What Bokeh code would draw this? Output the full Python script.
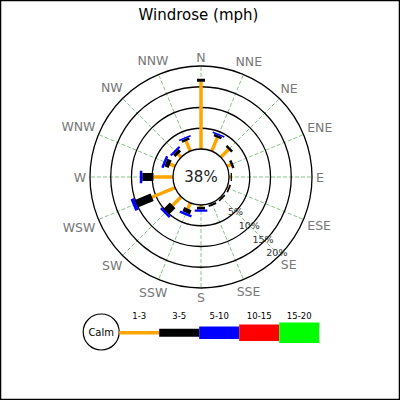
import numpy as np
from bokeh.plotting import figure
from bokeh.models import ColumnDataSource, Range1d
from bokeh.core.properties import value
from bokeh.embed import file_html
from bokeh.resources import INLINE

# ---------------- data ----------------
directions = ["N", "NNE", "NE", "ENE", "E", "ESE", "SE", "SSE",
              "S", "SSW", "SW", "WSW", "W", "WNW", "NW", "NNW"]
calm_pct = 38
speed_bins = ["1-3", "3-5", "5-10", "10-15", "15-20"]
bin_colors = ["orange", "black", "blue", "red", "#00ff00"]
s1_3   = [16.2, 3.5, 2.6, 1.0, 0.4, 0.3, 0.2, 0.2, 0.4, 1.5, 2.9, 6.0, 4.7, 1.3, 1.0, 2.6]
s3_5   = [0.7, 0.6, 0.6, 0.6, 0.3, 0.4, 0.4, 0.5, 0.7, 1.1, 2.2, 4.1, 2.7, 1.1, 0.8, 0.6]
s5_10  = [0.0, 0.4, 0.0, 0.0, 0.0, 0.0, 0.0, 0.0, 0.5, 0.6, 0.6, 0.9, 0.6, 0.6, 0.5, 0.4]
s10_15 = [0.0] * 16
s15_20 = [0.0] * 16
ring_pcts = [5, 10, 15, 20]
ring_labels = ["5%", "10%", "15%", "20%"]

# ---------------- layout ----------------
CX, CY = 200.5, 176.5     # centre of rose in screen px
PX = 4.15                 # px per percent
CALM_R = 6.75             # calm circle radius in percent units
bar_widths = [3.5, 8, 12.5, 16.5, 20.5]
FONT = value("DejaVu Sans")
LAB_FS = 12.5
CHAR_W = {"N": 0.748, "E": 0.632, "S": 0.635, "W": 0.989}


def sx(px):
    return (px - CX) / PX


def sy(py):
    return (CY - py) / PX


p = figure(width=400, height=400, output_backend="svg", toolbar_location=None,
           x_range=Range1d(sx(0), sx(400)), y_range=Range1d(sy(400), sy(0)),
           min_border=0)
p.axis.visible = False
p.grid.visible = False
p.outline_line_color = "black"
p.outline_line_width = 1.5
p.background_fill_color = "white"

theta = np.deg2rad(np.arange(16) * 22.5)
sn, cs = np.sin(theta), np.cos(theta)

# radial grid
r_out = CALM_R + ring_pcts[-1]
p.segment(x0=CALM_R * sn, y0=CALM_R * cs, x1=r_out * sn, y1=r_out * cs,
          line_color="green", line_alpha=0.6, line_dash="4 2", line_width=0.8)

# rings
p.circle(x=[0] * len(ring_pcts), y=[0] * len(ring_pcts),
         radius=[CALM_R + r for r in ring_pcts],
         fill_color=None, line_color="black", line_width=1.3)

# bars
series = [s1_3, s3_5, s5_10, s10_15, s15_20]
cum = np.zeros(16)
for k, vals in enumerate(series):
    vals = np.array(vals, dtype=float)
    start = CALM_R + cum
    end = start + vals
    m = vals > 0
    if m.any():
        p.segment(x0=start[m] * sn[m], y0=start[m] * cs[m],
                  x1=end[m] * sn[m], y1=end[m] * cs[m],
                  line_color=bin_colors[k], line_width=bar_widths[k], line_cap="butt")
    cum = cum + vals

# calm circle
p.circle(x=[0], y=[0], radius=[CALM_R], fill_color="white",
         line_color="black", line_width=1.3)
p.text(x=[0], y=[0], text=[f"{calm_pct}%"], text_align="center",
       text_baseline="middle", text_font_size="15px", text_color="#222222",
       text_font=FONT)

# direction labels: box just outside a fixed radius
r_in = 115.0
half_h = 5.0
lab_r = []
for d, s, c in zip(directions, sn, cs):
    half_w = 0.5 * LAB_FS * sum(CHAR_W[ch] for ch in d)
    lab_r.append((r_in + half_w * abs(s) + half_h * abs(c)) / PX)
lab_r = np.array(lab_r)
p.text(x=lab_r * sn, y=lab_r * cs, text=directions, text_align="center",
       text_baseline="middle", text_font_size=f"{LAB_FS}px", text_color="#777777",
       text_font=FONT)

# ring labels at SE
a = np.deg2rad(135)
rr = np.array([CALM_R + r - 0.3 * i for i, r in enumerate(ring_pcts)])
p.text(x=rr * np.sin(a), y=rr * np.cos(a), text=ring_labels, text_align="center",
       text_baseline="middle", text_font_size="9.5px", text_color="#333333",
       text_font=FONT)

# title
p.text(x=[sx(198)], y=[sy(14)], text=["Windrose (mph)"], text_align="center",
       text_baseline="middle", text_font_size="15px", text_color="black",
       text_font=FONT)

# legend
lx, ly, lr = 100.7, 331.5, 18.0
p.circle(x=[sx(lx)], y=[sy(ly)], radius=[lr / PX], fill_color="white",
         line_color="black", line_width=1.2)
p.text(x=[sx(lx)], y=[sy(ly)], text=["Calm"], text_align="center",
       text_baseline="middle", text_font_size="10px", text_color="black",
       text_font=FONT)
seg_x0 = np.array([lx + lr + 40 * k for k in range(len(speed_bins))])
seg_x1 = seg_x0 + 40
by = 332.3
for k in range(len(speed_bins)):
    p.segment(x0=[sx(seg_x0[k])], y0=[sy(by)], x1=[sx(seg_x1[k])], y1=[sy(by)],
              line_color=bin_colors[k], line_width=bar_widths[k], line_cap="butt")
p.text(x=[sx(v) for v in (seg_x0 + seg_x1) / 2], y=[sy(315)] * len(speed_bins),
       text=speed_bins, text_align="center", text_baseline="middle",
       text_font_size="8.5px", text_color="black", text_font=FONT)

open("out.html", "w").write(file_html(p, INLINE))
